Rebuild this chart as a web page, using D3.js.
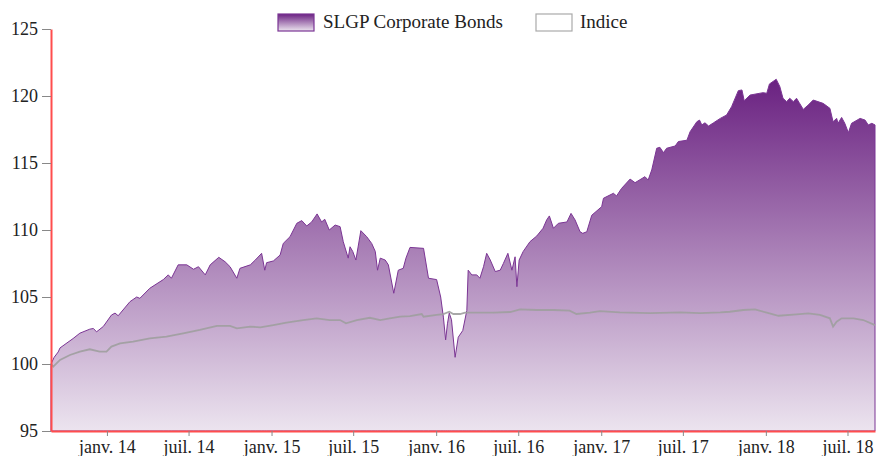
<html>
<head>
<meta charset="utf-8">
<style>
  body { margin: 0; background: #fff; }
  svg text { font-family: "Liberation Serif", "DejaVu Serif", serif; fill: #222; }
  .axis .domain { stroke: #ff4d4d; stroke-width: 2px; }
  .axis .tick line { stroke: #888; }
  .area { stroke: #7b3594; stroke-width: 1px; }
  .indice { fill: none; stroke: #9e9e9e; stroke-width: 1.8px; stroke-opacity: 0.9; }
</style>
</head>
<body>
<svg width="876" height="456"></svg>
<script src="https://cdn.jsdelivr.net/npm/d3@7"></script>
<script>

var seriesNames = ["SLGP Corporate Bonds", "Indice"];

var slgpDates = ["2013-08-30","2013-09-06","2013-09-15","2013-09-19","2013-10-18","2013-11-02","2013-11-24","2013-12-02","2013-12-09","2013-12-24",
  "2014-01-11","2014-01-19","2014-01-26","2014-02-21","2014-03-08","2014-03-15","2014-04-06","2014-05-06","2014-05-17","2014-05-24",
  "2014-06-08","2014-06-27","2014-07-12","2014-07-23","2014-08-07","2014-08-18","2014-09-06","2014-09-20","2014-10-01","2014-10-16",
  "2014-10-23","2014-11-15","2014-11-26","2014-12-10","2014-12-17","2014-12-21","2015-01-05","2015-01-20","2015-01-27","2015-02-11",
  "2015-02-26","2015-03-09","2015-03-20","2015-03-31","2015-04-12","2015-04-22","2015-04-29","2015-05-09","2015-05-22","2015-06-02",
  "2015-06-09","2015-06-20","2015-06-24","2015-06-30","2015-07-07","2015-07-18","2015-07-31","2015-08-11","2015-08-19","2015-08-24",
  "2015-08-30","2015-09-10","2015-09-17","2015-09-29","2015-10-09","2015-10-20","2015-10-26","2015-11-04","2015-12-04","2015-12-15",
  "2016-01-02","2016-01-11","2016-01-17","2016-01-22","2016-01-26","2016-01-30","2016-02-04","2016-02-12","2016-02-19","2016-02-29",
  "2016-03-09","2016-03-12","2016-03-20","2016-03-31","2016-04-07","2016-04-15","2016-04-22","2016-04-30","2016-05-11","2016-05-22",
  "2016-05-29","2016-06-08","2016-06-17","2016-06-24","2016-06-28","2016-07-03","2016-07-12","2016-07-27","2016-08-11","2016-08-25",
  "2016-09-02","2016-09-08","2016-09-17","2016-09-28","2016-10-17","2016-10-26","2016-11-04","2016-11-15","2016-11-21","2016-11-30",
  "2016-12-11","2017-01-02","2017-01-06","2017-01-28","2017-02-04","2017-02-15","2017-03-06","2017-03-17","2017-04-08","2017-04-15",
  "2017-04-23","2017-05-04","2017-05-11","2017-05-19","2017-05-26","2017-06-14","2017-06-21","2017-07-10","2017-07-17","2017-08-01",
  "2017-08-07","2017-08-12","2017-08-19","2017-08-27","2017-09-07","2017-09-22","2017-10-06","2017-10-17","2017-11-01","2017-11-09",
  "2017-11-14","2017-11-27","2017-12-26","2018-01-03","2018-01-09","2018-01-24","2018-02-01","2018-02-08","2018-02-16","2018-02-23",
  "2018-03-03","2018-03-10","2018-03-16","2018-03-25","2018-04-05","2018-04-16","2018-05-08","2018-05-23","2018-05-30","2018-06-07",
  "2018-06-10","2018-06-18","2018-06-25","2018-07-03","2018-07-10","2018-07-29","2018-08-09","2018-08-16","2018-08-24","2018-08-31"];

var slgpValues = [100.0,100.5,100.9,101.2,101.9,102.3,102.6,102.65,102.4,102.8,
  103.65,103.8,103.6,104.65,105.0,104.9,105.65,106.3,106.65,106.4,
  107.4,107.4,107.07,107.26,106.65,107.4,107.96,107.63,107.26,106.4,
  107.14,107.4,107.76,108.26,107.0,107.56,107.69,108.13,109.0,109.5,
  110.5,110.7,110.3,110.6,111.2,110.6,110.8,110.0,110.37,110.25,
  109.13,107.9,108.75,108.4,107.76,109.95,109.5,109.0,108.4,107.0,
  107.9,107.76,107.4,105.28,107.0,107.14,107.9,108.7,108.63,106.4,
  106.3,105.0,103.5,101.8,103.0,103.8,103.3,100.5,102.0,102.5,
  104.0,107.0,106.65,106.65,106.4,107.26,108.26,107.76,106.9,107.0,
  107.5,108.26,107.0,108.0,105.77,107.76,108.4,109.13,109.55,110.13,
  110.75,111.05,110.13,110.5,110.6,111.24,110.75,109.87,109.75,109.87,
  111.1,111.74,112.37,112.74,112.54,113.1,113.8,113.53,113.98,113.73,
  114.48,116.1,116.17,115.77,116.1,116.27,116.6,116.7,117.33,118.08,
  118.2,117.84,118.0,117.76,118.0,118.33,118.58,119.2,120.4,120.45,
  119.65,120.07,120.25,120.2,120.9,121.25,120.7,119.83,119.58,119.83,
  119.58,119.83,119.5,119.0,119.33,119.7,119.45,119.08,118.08,118.33,
  117.96,118.4,117.96,117.26,117.96,118.33,118.2,117.84,117.96,117.84];

var indiceDates = ["2013-08-30","2013-09-04","2013-09-19","2013-10-11","2013-11-02","2013-11-24","2013-12-16","2013-12-31","2014-01-11","2014-01-30",
  "2014-02-28","2014-04-06","2014-05-13","2014-06-19","2014-07-26","2014-09-02","2014-10-01","2014-10-16","2014-11-15","2014-12-07",
  "2015-01-05","2015-02-03","2015-03-12","2015-04-11","2015-05-10","2015-06-02","2015-06-15","2015-07-09","2015-08-07","2015-08-30",
  "2015-09-20","2015-10-13","2015-11-04","2015-11-30","2015-12-04","2016-01-02","2016-01-17","2016-01-30","2016-02-08","2016-02-23",
  "2016-03-05","2016-03-31","2016-05-07","2016-06-13","2016-07-05","2016-08-11","2016-09-17","2016-10-23","2016-11-07","2016-12-07",
  "2016-12-29","2017-02-11","2017-04-19","2017-06-25","2017-08-08","2017-09-22","2017-10-13","2017-11-12","2017-12-08","2018-01-03",
  "2018-01-29","2018-03-10","2018-04-05","2018-05-01","2018-05-23","2018-05-30","2018-06-07","2018-06-18","2018-07-14","2018-08-05",
  "2018-08-31"];

var indiceValues = [100.0,99.8,100.3,100.67,100.92,101.1,100.92,100.92,101.3,101.54,
  101.67,101.92,102.04,102.29,102.54,102.84,102.84,102.66,102.79,102.74,
  102.9,103.08,103.28,103.41,103.28,103.28,103.03,103.28,103.45,103.28,
  103.41,103.53,103.58,103.73,103.53,103.66,103.73,103.9,103.73,103.73,
  103.83,103.83,103.83,103.88,104.08,104.03,104.03,103.98,103.73,103.83,
  103.95,103.85,103.8,103.85,103.8,103.85,103.9,104.03,104.08,103.83,
  103.6,103.7,103.78,103.66,103.41,102.79,103.16,103.41,103.41,103.28,
  102.9];

var yTicks = [95, 100, 105, 110, 115, 120, 125];
var xTickDates = ["2014-01-01","2014-07-01","2015-01-01","2015-07-01","2016-01-01","2016-07-01","2017-01-01","2017-07-01","2018-01-01","2018-07-01"];
var xTickLabels = ["janv. 14","juil. 14","janv. 15","juil. 15","janv. 16","juil. 16","janv. 17","juil. 17","janv. 18","juil. 18"];

var parse = d3.timeParse("%Y-%m-%d");
var slgp = slgpDates.map(function(d, i) { return { date: parse(d), value: slgpValues[i] }; });
var indice = indiceDates.map(function(d, i) { return { date: parse(d), value: indiceValues[i] }; });

var svg = d3.select("svg"),
    margin = {top: 29, right: 1, bottom: 25, left: 51},
    width = +svg.attr("width") - margin.left - margin.right,
    height = +svg.attr("height") - margin.top - margin.bottom,
    g = svg.append("g").attr("transform", "translate(" + margin.left + "," + margin.top + ")");

var x = d3.scaleTime()
    .domain([parse("2013-08-30"), parse("2018-08-31")])
    .range([0, width]);

var y = d3.scaleLinear()
    .domain([95, 125])
    .range([height, 0]);

var defs = svg.append("defs");
var grad = defs.append("linearGradient")
    .attr("id", "purpleGrad")
    .attr("x1", 0).attr("y1", 0).attr("x2", 0).attr("y2", 1);
grad.append("stop").attr("offset", "0%").attr("stop-color", "#6a2181");
grad.append("stop").attr("offset", "100%").attr("stop-color", "#ece4ef");

var area = d3.area()
    .x(function(d) { return x(d.date); })
    .y0(height)
    .y1(function(d) { return y(d.value); });

var line = d3.line()
    .x(function(d) { return x(d.date); })
    .y(function(d) { return y(d.value); });

g.append("path")
    .datum(slgp)
    .attr("class", "area")
    .attr("fill", "url(#purpleGrad)")
    .attr("d", area);

g.append("path")
    .datum(indice)
    .attr("class", "indice")
    .attr("d", line);

// axes
var yAxis = g.append("g")
    .attr("class", "axis axis--y")
    .call(d3.axisLeft(y).tickValues(yTicks).tickSize(9).tickSizeOuter(0).tickPadding(4));
yAxis.selectAll("text").style("font-size", "18px").attr("fill", "#222");

var xAxis = g.append("g")
    .attr("class", "axis axis--x")
    .attr("transform", "translate(0," + height + ")")
    .call(d3.axisBottom(x)
        .tickValues(xTickDates.map(parse))
        .tickFormat(function(d, i) { return xTickLabels[i]; })
        .tickSize(5).tickSizeOuter(0).tickPadding(4));
xAxis.selectAll("text").style("font-size", "18px").attr("fill", "#222");

// legend
var legend = svg.append("g").attr("class", "legend");
var legendX = [278, 536];
legend.append("rect")
    .attr("x", legendX[0]).attr("y", 14).attr("width", 36).attr("height", 17)
    .attr("fill", "url(#purpleGrad)").attr("stroke", "#7b3594").attr("stroke-width", 1.2);
legend.append("text")
    .attr("x", legendX[0] + 45).attr("y", 28).style("font-size", "19px")
    .text(seriesNames[0]);
legend.append("rect")
    .attr("x", legendX[1]).attr("y", 14).attr("width", 36).attr("height", 17)
    .attr("fill", "#fff").attr("stroke", "#aaa").attr("stroke-width", 1.2);
legend.append("text")
    .attr("x", legendX[1] + 44).attr("y", 28).style("font-size", "19px")
    .text(seriesNames[1]);

</script>
</body>
</html>
